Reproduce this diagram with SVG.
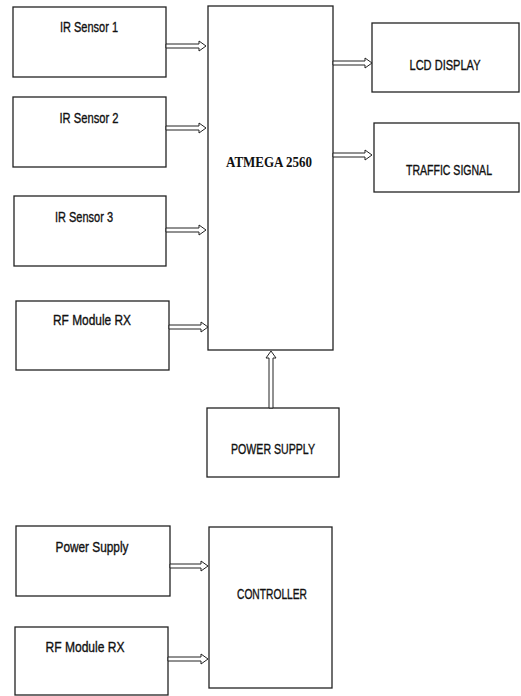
<svg xmlns="http://www.w3.org/2000/svg" width="521" height="696" viewBox="0 0 521 696">
<style>
.box{fill:#fff;stroke:#222;stroke-width:1.3}
.t{font-family:"Liberation Sans",Arial,sans-serif;font-size:14.5px;fill:#111;stroke:#111;stroke-width:0.35;text-anchor:middle}
.s{font-family:"Liberation Serif","Times New Roman",serif;font-size:15px;font-weight:bold;fill:#111;text-anchor:middle}
.ar{fill:#fff;stroke:#222;stroke-width:1}
</style>
<rect width="521" height="696" fill="#fff"/>
<g id="ir1"><rect class="box" x="13" y="7" width="153" height="70"/><text class="t" x="89" y="32" textLength="58" lengthAdjust="spacingAndGlyphs">IR Sensor 1</text></g>
<g id="ir2"><rect class="box" x="13" y="97" width="153" height="70"/><text class="t" x="89" y="123" textLength="59" lengthAdjust="spacingAndGlyphs">IR Sensor 2</text></g>
<g id="ir3"><rect class="box" x="14" y="196" width="152" height="70"/><text class="t" x="84" y="222" textLength="58" lengthAdjust="spacingAndGlyphs">IR Sensor 3</text></g>
<g id="rf1"><rect class="box" x="16" y="301" width="153" height="69"/><text class="t" x="92" y="325" textLength="78" lengthAdjust="spacingAndGlyphs">RF Module RX</text></g>
<g id="atmega"><rect class="box" x="208" y="6" width="125" height="344"/><text class="s" x="269" y="167" textLength="86" lengthAdjust="spacingAndGlyphs">ATMEGA 2560</text></g>
<g id="lcd"><rect class="box" x="372" y="23" width="147" height="69"/><text class="t" x="445" y="70" textLength="71" lengthAdjust="spacingAndGlyphs">LCD DISPLAY</text></g>
<g id="traffic"><rect class="box" x="374" y="123" width="145" height="69"/><text class="t" x="449" y="175" textLength="86" lengthAdjust="spacingAndGlyphs">TRAFFIC SIGNAL</text></g>
<g id="psu"><rect class="box" x="207" y="408" width="132" height="69"/><text class="t" x="273" y="454" textLength="84" lengthAdjust="spacingAndGlyphs">POWER SUPPLY</text></g>
<g id="ps2"><rect class="box" x="16" y="526" width="154" height="70"/><text class="t" x="92" y="552" textLength="73" lengthAdjust="spacingAndGlyphs">Power Supply</text></g>
<g id="rf2"><rect class="box" x="15" y="627" width="153" height="68"/><text class="t" x="85" y="652" textLength="79" lengthAdjust="spacingAndGlyphs">RF Module RX</text></g>
<g id="controller"><rect class="box" x="209" y="527" width="123" height="161"/><text class="t" x="272" y="599" textLength="70" lengthAdjust="spacingAndGlyphs">CONTROLLER</text></g>
<g id="connectors">
<path class="ar" d="M166,44 H199 V41 L206,46 L199,51 V48 H166 Z"/>
<path class="ar" d="M166,126 H199 V123 L206,128 L199,133 V130 H166 Z"/>
<path class="ar" d="M166,228 H199 V225 L206,230 L199,235 V232 H166 Z"/>
<path class="ar" d="M169,325 H201 V322 L208,327 L201,332 V329 H169 Z"/>
<path class="ar" d="M333,61 H365 V58 L372,63 L365,68 V65 H333 Z"/>
<path class="ar" d="M333,153 H365 V150 L372,155 L365,160 V157 H333 Z"/>
<path class="ar" d="M269,408 V358 H266 L271,351 L276,358 H273 V408 Z"/>
<path class="ar" d="M170,564 H201 V561 L208,566 L201,571 V568 H170 Z"/>
<path class="ar" d="M168,657 H201 V654 L208,659 L201,664 V661 H168 Z"/>
</g>
</svg>
